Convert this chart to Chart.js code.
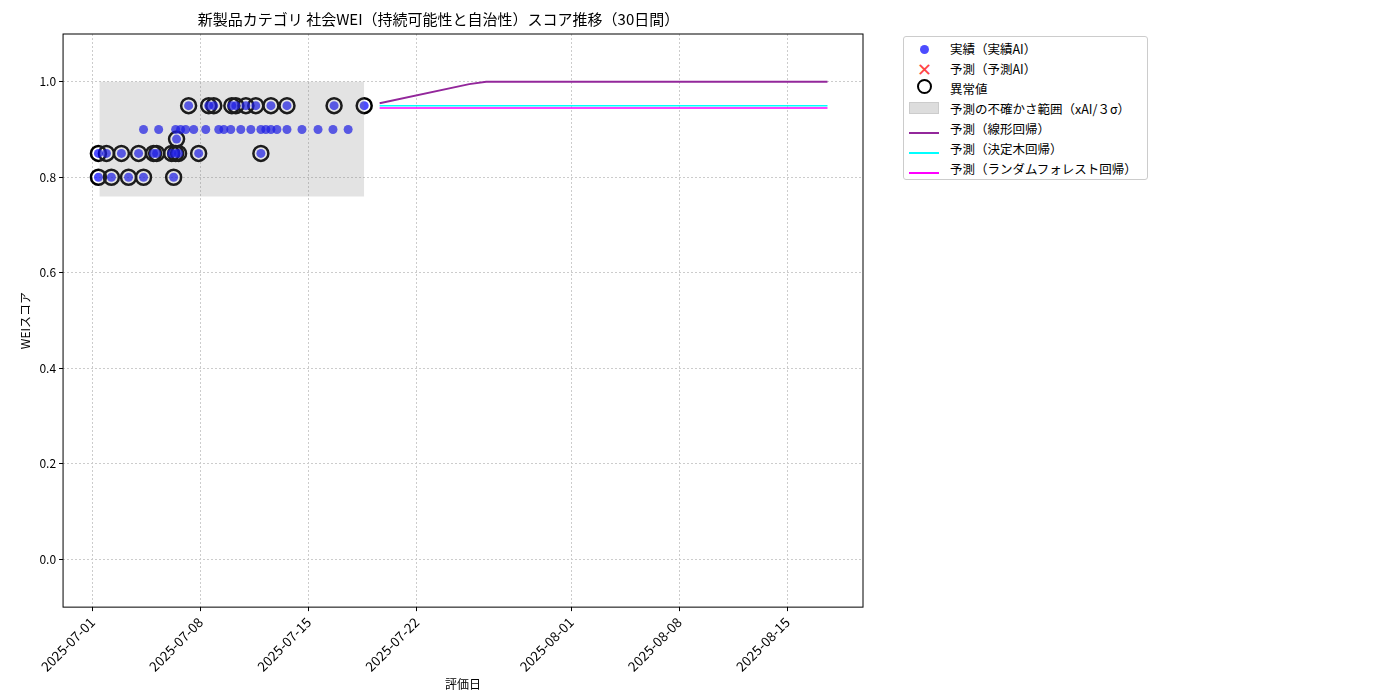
<!DOCTYPE html><html><head><meta charset="utf-8">
<script src="https://cdn.jsdelivr.net/npm/chart.js@4"></script>
<style>body{margin:0;background:#fff;font-family:"Noto Sans CJK JP",sans-serif}
#lg{position:absolute;left:903px;top:36px;border:1px solid #ccc;border-radius:3px;padding:1px 10px 1px 4px;font-size:12.5px;background:#fff}
#lg div{height:20px;display:flex;align-items:center}#lg span.s{width:32px;display:inline-block;margin-right:10px;text-align:center}</style></head><body>
<div style="position:relative;width:1400px;height:700px"><canvas id="c" width="1400" height="700"></canvas>
<div id="lg">
<div><span class="s"><span style="display:inline-block;width:9px;height:9px;border-radius:50%;background:rgba(0,0,255,.7)"></span></span>実績（実績AI）</div>
<div><span class="s" style="color:#f44;font-size:18px">✕</span>予測（予測AI）</div>
<div><span class="s"><span style="display:inline-block;width:11px;height:11px;border-radius:50%;border:2.5px solid #000"></span></span>異常値</div>
<div><span class="s"><span style="display:inline-block;width:28px;height:10px;background:#ddd;border:1px solid #ccc"></span></span>予測の不確かさ範囲（xAI/３σ）</div>
<div><span class="s"><span style="display:inline-block;width:30px;height:2px;background:#93279b"></span></span>予測（線形回帰）</div>
<div><span class="s"><span style="display:inline-block;width:30px;height:2px;background:cyan"></span></span>予測（決定木回帰）</div>
<div><span class="s"><span style="display:inline-block;width:30px;height:2px;background:magenta"></span></span>予測（ランダムフォレスト回帰）</div>
</div></div>
<script>
const startDate = "2025-07-01";
const actualDays = [6.23,7.53,7.86,9.03,9.29,9.94,10.58,11.56,12.6,15.65,17.6,
 3.31,4.29,5.39,5.71,6.04,6.56,7.34,8.18,8.51,8.96,9.61,10.26,10.91,11.23,11.56,11.95,12.6,13.57,14.61,15.58,16.56,
 5.45,0.39,0.91,1.88,2.99,3.96,4.16,5.13,5.39,5.58,6.88,10.91,0.39,1.23,2.34,3.31,5.26];
const actualScores = [0.95,0.95,0.95,0.95,0.95,0.95,0.95,0.95,0.95,0.95,0.95,
 0.9,0.9,0.9,0.9,0.9,0.9,0.9,0.9,0.9,0.9,0.9,0.9,0.9,0.9,0.9,0.9,0.9,0.9,0.9,0.9,0.9,
 0.88,0.85,0.85,0.85,0.85,0.85,0.85,0.85,0.85,0.85,0.85,0.85,0.8,0.8,0.8,0.8,0.8];
const anomalyDays = [6.23,7.53,7.86,9.03,9.29,9.94,10.58,11.56,12.6,15.65,17.6,5.45,0.39,0.91,1.88,2.99,3.96,4.16,5.13,5.39,5.58,6.88,10.91,0.39,1.23,2.34,3.31,5.26];
const anomalyScores = [0.95,0.95,0.95,0.95,0.95,0.95,0.95,0.95,0.95,0.95,0.95,0.88,0.85,0.85,0.85,0.85,0.85,0.85,0.85,0.85,0.85,0.85,0.85,0.8,0.8,0.8,0.8,0.8];
const bandDays = [0.45,17.6], bandUpper = [1.0,1.0], bandLower = [0.76,0.76];
const linDays = [18.6,24.4,25.5,47.6], linScores = [0.955,0.995,1.0,1.0];
const treeDays = [18.6,47.6], treeScores = [0.95,0.95];
const rfDays = [18.6,47.6], rfScores = [0.945,0.945];
const tickDays = [0,7,14,21,31,38,45];
const yTicks = [0,0.2,0.4,0.6,0.8,1.0];
const pts=(xs,ys)=>xs.map((x,i)=>({x,y:ys[i]}));
function lbl(d){const t=new Date(Date.UTC(2025,6,1)+d*864e5);return t.toISOString().slice(0,10);}
const F='"Noto Sans CJK JP", sans-serif';
const frame={id:'frame',afterDraw(c){const a=c.chartArea,x=c.ctx;x.save();x.strokeStyle='#000';x.lineWidth=1;x.strokeRect(a.left,a.top,a.right-a.left,a.bottom-a.top);x.restore();}};
new Chart(document.getElementById('c'),{type:'scatter',plugins:[frame],
data:{datasets:[
{type:'line',data:pts(bandDays,bandUpper),borderWidth:0,pointRadius:0,backgroundColor:'rgba(128,128,128,0.22)',fill:'+1'},
{type:'line',data:pts(bandDays,bandLower),borderWidth:0,pointRadius:0},
{data:pts(actualDays,actualScores),backgroundColor:'rgba(0,0,255,0.7)',borderWidth:0,pointRadius:4.5},
{data:pts(anomalyDays,anomalyScores),backgroundColor:'rgba(0,0,0,0)',borderColor:'#000',borderWidth:2.5,pointRadius:7.5},
{type:'line',data:pts(linDays,linScores),borderColor:'#93279b',borderWidth:1.8,pointRadius:0},
{type:'line',data:pts(treeDays,treeScores),borderColor:'cyan',borderWidth:1.5,pointRadius:0},
{type:'line',data:pts(rfDays,rfScores),borderColor:'magenta',borderWidth:1.5,pointRadius:0}
]},
options:{responsive:false,animation:false,layout:{padding:{left:14,right:537,top:2,bottom:8}},
plugins:{legend:{display:false},tooltip:{enabled:false},title:{display:true,text:'新製品カテゴリ 社会WEI（持続可能性と自治性）スコア推移（30日間）',font:{family:F,size:15,weight:'normal'},color:'#000',padding:{top:8,bottom:6}}},
scales:{x:{type:'linear',min:-1.9,max:49.9,afterBuildTicks(s){s.ticks=tickDays.map(v=>({value:v}));},
ticks:{callback:v=>lbl(v),maxRotation:45,minRotation:45,color:'#000',font:{family:F,size:13.5}},
grid:{color:'#ccc',tickColor:'#000',tickLength:4},border:{dash:[2,2],display:false},
title:{display:true,text:'評価日',color:'#000',font:{family:F,size:12},padding:0}},
y:{min:-0.1,max:1.1,afterBuildTicks(s){s.ticks=yTicks.map(v=>({value:v}));},
ticks:{callback:v=>v.toFixed(1),color:'#000',font:{family:F,size:12}},
grid:{color:'#ccc',tickColor:'#000',tickLength:4},border:{dash:[2,2],display:false},
title:{display:true,text:'WEIスコア',color:'#000',font:{family:F,size:12}}}}}});
</script></body></html>
